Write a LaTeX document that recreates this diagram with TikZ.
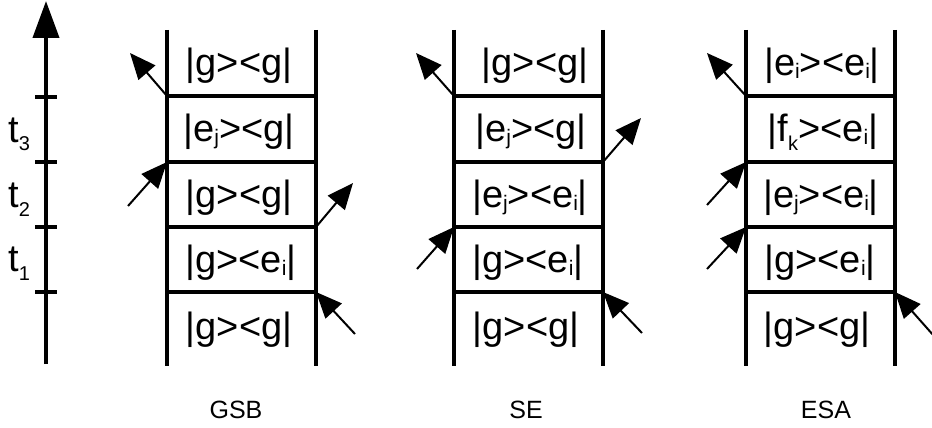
\documentclass[tikz,border=0pt]{standalone}
\usepackage{fontspec}
\setmainfont{Liberation Sans}
\usetikzlibrary{arrows.meta}
\newcommand{\statefont}{\fontsize{38}{40}\selectfont}
\newcommand{\capfont}{\fontsize{25}{27}\selectfont}
\newcommand{\sbs}[1]{\raisebox{-3pt}{\fontsize{21}{21}\selectfont #1}}
\newcommand{\sbl}[1]{\raisebox{-9pt}{\fontsize{20}{20}\selectfont #1}}
\tikzset{
  rail/.style={line width=4pt},
  rung/.style={line width=4pt},
  tick/.style={line width=4pt},
  axisline/.style={line width=4pt, -{Triangle[length=37pt,width=26pt]}},
  photon/.style={line width=2pt, -{Triangle[length=26pt,width=22pt]}},
  state/.style={anchor=base, inner sep=0pt, font=\statefont},
  caption/.style={anchor=base, inner sep=0pt, font=\capfont},
  tlabel/.style={anchor=base west, inner sep=0pt, font=\statefont},
}
\begin{document}
\begin{tikzpicture}[x=1pt,y=-1pt]
\useasboundingbox (0,0) rectangle (932,428);
% time axis
\coordinate (axb) at (46,364);
\coordinate (axt) at (46,1);
\draw[axisline] (axb) -- (axt);
\foreach \k/\y in {1/292,2/227,3/162,4/97} {
  \coordinate (tk\k a) at (35,\y);
  \coordinate (tk\k b) at (57,\y);
  \draw[tick] (tk\k a) -- (tk\k b);
}
\node[tlabel] (t3) at (8,142) {t\sbl{3}};
\node[tlabel] (t2) at (8,207) {t\sbl{2}};
\node[tlabel] (t1) at (8,271) {t\sbl{1}};
% ladders
\foreach \n/\l/\r in {G/167/316, S/454/603, E/746/895} {
  \coordinate (\n-Lt) at (\l,30); \coordinate (\n-Lb) at (\l,366);
  \coordinate (\n-Rt) at (\r,30); \coordinate (\n-Rb) at (\r,366);
  \foreach \k/\y in {1/292,2/227,3/162,4/96} {
    \coordinate (\n-L\k) at (\l,\y);
    \coordinate (\n-R\k) at (\r,\y);
  }
  \draw[rail] (\n-Lt) -- (\n-Lb);
  \draw[rail] (\n-Rt) -- (\n-Rb);
  \foreach \k in {1,...,4} \draw[rung] (\n-L\k) -- (\n-R\k);
}
% GSB states
\node[state] (g5) at (239,75) {|g><g|};
\node[state] (g4) at (239,141) {|e\sbs{j}><g|};
\node[state] (g3) at (239,207) {|g><g|};
\node[state] (g2) at (241,272) {|g><e\sbs{i}|};
\node[state] (g1) at (239,339) {|g><g|};
% SE states
\node[state] (s5) at (535,75) {|g><g|};
\node[state] (s4) at (531,141) {|e\sbs{j}><g|};
\node[state] (s3) at (530,207) {|e\sbs{j}><e\sbs{i}|};
\node[state] (s2) at (528,272) {|g><e\sbs{i}|};
\node[state] (s1) at (526,339) {|g><g|};
% ESA states
\node[state] (e5) at (822,75) {|e\sbs{i}><e\sbs{i}|};
\node[state] (e4) at (823,141) {|f\sbl{k}><e\sbs{i}|};
\node[state] (e3) at (821,207) {|e\sbs{j}><e\sbs{i}|};
\node[state] (e2) at (820,272) {|g><e\sbs{i}|};
\node[state] (e1) at (817,339) {|g><g|};
% captions
\node[caption] (capG) at (236,418) {GSB};
\node[caption] (capS) at (526,418) {SE};
\node[caption] (capE) at (826,418) {ESA};
% photon arrows GSB
\coordinate (ga1) at (130,53);
\coordinate (ga2) at (128,206);
\coordinate (ga3) at (353,183);
\coordinate (ga4) at (355,334);
\draw[photon] (G-L4) -- (ga1);
\draw[photon] (ga2) -- (G-L3);
\draw[photon] (G-R2) -- (ga3);
\draw[photon] (ga4) -- (G-R1);
% photon arrows SE
\coordinate (sa1) at (416,53);
\coordinate (sa2) at (641,118);
\coordinate (sa3) at (417,269);
\coordinate (sa4) at (642,333);
\draw[photon] (S-L4) -- (sa1);
\draw[photon] (S-R3) -- (sa2);
\draw[photon] (sa3) -- (S-L2);
\draw[photon] (sa4) -- (S-R1);
% photon arrows ESA
\coordinate (ea1) at (707,53);
\coordinate (ea2) at (707,205);
\coordinate (ea3) at (707,269);
\coordinate (ea4) at (934,336);
\draw[photon] (E-L4) -- (ea1);
\draw[photon] (ea2) -- (E-L3);
\draw[photon] (ea3) -- (E-L2);
\draw[photon] (ea4) -- (E-R1);
\end{tikzpicture}
\end{document}
